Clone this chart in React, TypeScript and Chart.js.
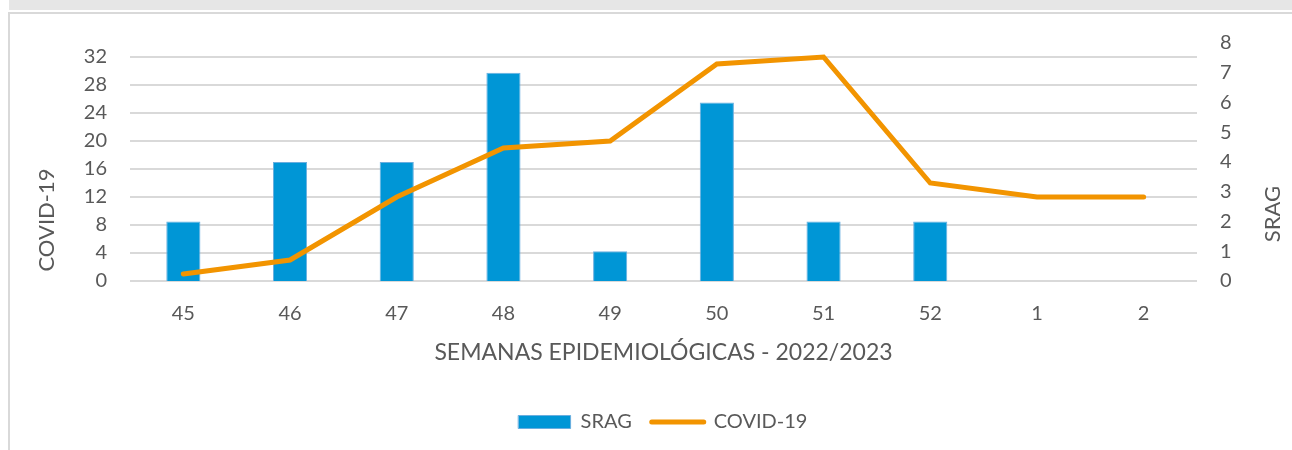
import React, { useEffect, useRef } from 'react';
import { Chart, registerables } from 'chart.js';

Chart.register(...registerables);

const weeks = ['45', '46', '47', '48', '49', '50', '51', '52', '1', '2'];
const sragValues = [2, 4, 4, 7, 1, 6, 2, 2, 0, 0];
const covidValues = [1, 3, 12, 19, 20, 31, 32, 14, 12, 12];
const covidTicks = [0, 4, 8, 12, 16, 20, 24, 28, 32];
const sragTicks = [0, 1, 2, 3, 4, 5, 6, 7, 8];
const xTitle = 'SEMANAS EPIDEMIOLÓGICAS - 2022/2023';
const leftTitle = 'COVID-19';
const rightTitle = 'SRAG';

const FONT = 'Lato, "Open Sans", sans-serif';
const TEXT = '#595959';

const sideTitles = {
  id: 'sideTitles',
  afterDraw(chart: any) {
    const ctx = chart.ctx;
    const draw = (text: string, x: number, y: number) => {
      ctx.save();
      ctx.fillStyle = TEXT;
      ctx.font = `22px ${FONT}`;
      ctx.textAlign = 'center';
      ctx.textBaseline = 'middle';
      ctx.translate(x, y);
      ctx.rotate(-Math.PI / 2);
      ctx.fillText(text, 0, 0);
      ctx.restore();
    };
    draw(leftTitle, 47, 220);
    draw(rightTitle, 1273, 214);
  },
};

export default function App() {
  const ref = useRef<HTMLCanvasElement | null>(null);

  useEffect(() => {
    if (!ref.current) return;
    const chart = new Chart(ref.current, {
      type: 'bar',
      data: {
        labels: weeks,
        datasets: [
          {
            type: 'bar',
            label: 'SRAG',
            data: sragValues,
            yAxisID: 'y1',
            backgroundColor: '#0096D6',
            borderColor: '#6AAEDF',
            borderWidth: 1,
            categoryPercentage: 1,
            barPercentage: 0.32,
            order: 1,
          } as any,
          {
            type: 'line',
            label: 'COVID-19',
            data: covidValues,
            yAxisID: 'y',
            borderColor: '#F29400',
            backgroundColor: '#F29400',
            borderWidth: 5,
            pointRadius: 0,
            pointHoverRadius: 0,
            tension: 0,
            borderCapStyle: 'round',
            order: 0,
          } as any,
        ],
      },
      options: {
        animation: false,
        responsive: false,
        maintainAspectRatio: false,
        layout: { padding: { top: 43, left: 34, right: 0, bottom: 8 } },
        plugins: {
          tooltip: { enabled: false },
          legend: {
            position: 'bottom',
            labels: {
              color: TEXT,
              font: { family: FONT, size: 20 },
              usePointStyle: true,
              pointStyleWidth: 52,
              boxHeight: 13,
              padding: 20,
              generateLabels(c: any) {
                const items = Chart.defaults.plugins.legend.labels.generateLabels(c);
                return items
                  .map((it: any) => ({
                    ...it,
                    pointStyle: it.datasetIndex === 0 ? 'rect' : 'line',
                    lineWidth: it.datasetIndex === 0 ? 1 : 5,
                    lineCap: 'round',
                  }))
                  .sort((a: any, b: any) => a.datasetIndex - b.datasetIndex);
              },
            },
          },
        },
        scales: {
          x: {
            grid: { display: false },
            border: { display: false },
            ticks: { color: TEXT, font: { family: FONT, size: 20 }, padding: 13 },
            title: {
              display: true,
              text: xTitle,
              color: TEXT,
              font: { family: FONT, size: 23 },
              padding: { top: 0, bottom: 26 },
            },
            afterFit(scale: any) {
              scale.height = 111;
            },
          },
          y: {
            position: 'left',
            min: 0,
            max: 34,
            afterBuildTicks(scale: any) {
              scale.ticks = covidTicks.map((v) => ({ value: v }));
            },
            grid: { color: '#D9D9D9', lineWidth: 2, drawTicks: false },
            border: { display: false },
            ticks: { color: TEXT, font: { family: FONT, size: 20 }, padding: 23 },
            afterFit(scale: any) {
              scale.width = 96;
            },
          },
          y1: {
            position: 'right',
            min: 0,
            max: 8,
            afterBuildTicks(scale: any) {
              scale.ticks = sragTicks.map((v) => ({ value: v }));
            },
            grid: { display: false, drawTicks: false },
            border: { display: false },
            ticks: { color: TEXT, font: { family: FONT, size: 20 }, padding: 23 },
            afterFit(scale: any) {
              scale.width = 95;
            },
          },
        },
      } as any,
      plugins: [sideTitles],
    });
    return () => chart.destroy();
  }, []);

  return (
    <div style={{ position: 'fixed', left: 0, top: 0, width: 1292, height: 450, background: '#ffffff', overflow: 'hidden' }}>
      <div style={{ position: 'absolute', left: 9, top: 0, right: 0, height: 10, background: '#E6E6E6' }} />
      <div style={{ position: 'absolute', left: 8, top: 12, right: -10, bottom: -10, border: '2px solid #D9D9D9' }} />
      <canvas ref={ref} width={1292} height={450} style={{ position: 'absolute', left: 0, top: 0, width: 1292, height: 450 }} />
    </div>
  );
}
